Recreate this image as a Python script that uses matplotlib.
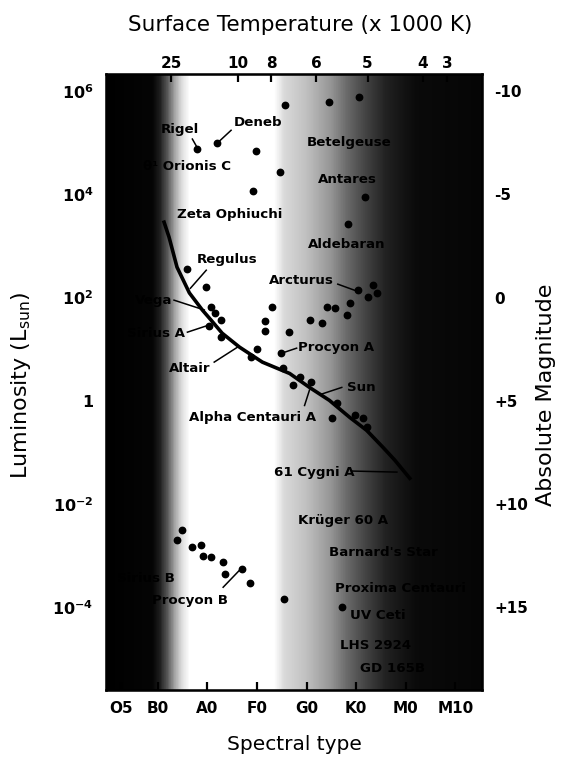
import numpy as np
import matplotlib
matplotlib.use("Agg")
import matplotlib.pyplot as plt

# ─── DATA ──────────────────────────────────────────────────────────────────────
# spectral type on a numeric scale: B0=10, A0=20, F0=30, G0=40, K0=50, M0=60
SPEC_TICKS  = [2.6, 10, 20, 30, 40, 50, 60, 70]
SPEC_LABELS = ["O5", "B0", "A0", "F0", "G0", "K0", "M0", "M10"]

TEMP_TICKS  = [12.7, 26.1, 32.9, 42.0, 52.3, 63.4, 68.3]
TEMP_LABELS = ["25", "10", "8", "6", "5", "4", "3"]

LUM_TICKS  = [-4, -2, 0, 2, 4, 6]
LUM_LABELS = [r"$\mathbf{10^{-4}}$", r"$\mathbf{10^{-2}}$", r"$\mathbf{1}$",
              r"$\mathbf{10^{2}}$", r"$\mathbf{10^{4}}$", r"$\mathbf{10^{6}}$"]
MAG_TICKS  = [-10, -5, 0, 5, 10, 15]
MAG_LABELS = ["-10", "-5", "0", "+5", "+10", "+15"]

# main-sequence curve
MS_TYPE = [11.3, 12.3, 13.9, 16.4, 19.0, 20.8, 23.0, 26.5, 31.1, 36.6,
           40.6, 44.6, 48.7, 52.1, 55.4, 57.8, 60.8]
MS_LOGL = [3.46, 3.17, 2.59, 2.09, 1.76, 1.56, 1.31, 1.04, 0.75, 0.53,
           0.26, 0.01, -0.32, -0.57, -0.90, -1.15, -1.50]

# individual stars
STAR_TYPE = [35.6, 44.6, 50.5, 18.0, 22.0, 29.9, 34.7, 29.3, 51.7, 48.3,
             16.0, 19.8, 20.8, 21.6, 22.8, 20.4, 22.8, 33.1, 31.7, 31.7,
             36.4, 30.1, 28.9, 34.9, 35.2, 37.2, 38.6, 41.0, 40.6, 43.2,
             44.2, 45.7, 48.1, 48.7, 50.3, 52.3, 53.3, 54.1, 46.1, 45.1,
             49.7, 51.3, 52.1,
             14.9, 13.9, 17.0, 18.8, 19.2, 20.8, 23.2, 23.6, 26.9, 28.7,
             35.4, 47.1]
STAR_LOGL = [5.73, 5.79, 5.88, 4.88, 4.99, 4.84, 4.43, 4.06, 3.95, 3.42,
             2.55, 2.20, 1.81, 1.70, 1.56, 1.45, 1.23, 1.81, 1.54, 1.35,
             1.33, 1.00, 0.84, 0.92, 0.63, 0.30, 0.46, 0.36, 1.56, 1.50,
             1.81, 1.79, 1.66, 1.89, 2.14, 2.01, 2.24, 2.09, -0.05, -0.34,
             -0.28, -0.34, -0.51,
             -2.51, -2.70, -2.84, -2.80, -3.01, -3.03, -3.13, -3.36, -3.26, -3.53,
             -3.83, -4.00]

# star names
NAMES = ["Rigel", "Deneb", "θ¹ Orionis C", "Zeta Ophiuchi", "Regulus", "Arcturus",
         "Vega", "Sirius A", "Altair", "Procyon A", "Sun", "Alpha Centauri A",
         "61 Cygni A", "Betelgeuse", "Antares", "Aldebaran", "Krüger 60 A",
         "Barnard's Star", "Proxima Centauri", "UV Ceti", "LHS 2924", "GD 165B",
         "Procyon B", "Sirius B"]

# ─── LAYOUT ────────────────────────────────────────────────────────────────────
# text anchor (type, logL, ha) for each name
NAME_POS = {
    "Rigel": (10.7, 5.26, "left"), "Deneb": (25.3, 5.40, "left"),
    "θ¹ Orionis C": (24.8, 4.53, "right"), "Zeta Ophiuchi": (13.9, 3.60, "left"),
    "Regulus": (17.8, 2.74, "left"), "Arcturus": (32.5, 2.34, "left"),
    "Vega": (12.9, 1.95, "right"), "Sirius A": (15.6, 1.31, "right"),
    "Altair": (12.3, 0.63, "left"), "Procyon A": (38.2, 1.04, "left"),
    "Sun": (48.1, 0.26, "left"), "Alpha Centauri A": (16.4, -0.32, "left"),
    "61 Cygni A": (33.5, -1.38, "left"), "Betelgeuse": (40.0, 5.01, "left"),
    "Antares": (42.2, 4.28, "left"), "Aldebaran": (40.2, 3.02, "left"),
    "Krüger 60 A": (38.2, -2.31, "left"), "Barnard's Star": (44.6, -2.93, "left"),
    "Proxima Centauri": (45.7, -3.63, "left"), "UV Ceti": (48.7, -4.15, "left"),
    "LHS 2924": (46.7, -4.74, "left"), "GD 165B": (50.7, -5.18, "left"),
    "Procyon B": (24.2, -3.86, "right"), "Sirius B": (13.5, -3.44, "right"),
}
# pointer lines: (x0, logL0, x1, logL1)
POINTERS = [
    (17.0, 5.07, 18.0, 4.90), (24.8, 5.24, 22.0, 4.99), (19.8, 2.53, 16.6, 2.18),
    (46.3, 2.26, 50.3, 2.12), (13.3, 1.95, 19.4, 1.76), (16.0, 1.33, 20.4, 1.47),
    (21.4, 0.75, 26.1, 1.04), (38.0, 1.02, 34.9, 0.92), (47.1, 0.26, 43.0, 0.13),
    (39.6, -0.09, 40.6, 0.21), (49.3, -1.36, 58.2, -1.38), (23.2, -3.61, 26.5, -3.28),
]

# background shading: (type, grey level)
SHADE_X = [-0.4, 9.0, 10.5, 12.0, 13.5, 15.0, 16.5, 33.5, 35.5, 40, 45, 48, 52, 56, 62, 75.4]
SHADE_G = [0.0, 0.02, 0.12, 0.35, 0.65, 0.88, 1.0, 1.0, 0.85, 0.75, 0.58, 0.42, 0.26, 0.13, 0.04, 0.02]

XLIM = (-0.4, 75.35)
YLIM = (10 ** -5.6, 10 ** 6.33)

fig = plt.figure(figsize=(5.63, 7.59), dpi=100)
ax = fig.add_axes([106 / 563, 69 / 759, 376 / 563, 616 / 759])
ax.set_yscale("log")

xe = np.linspace(XLIM[0], XLIM[1], 600)
grey = np.interp(0.5 * (xe[1:] + xe[:-1]), SHADE_X, SHADE_G)
ax.pcolormesh(xe, YLIM, grey[np.newaxis, :], cmap="gray", vmin=0, vmax=1,
              shading="flat", zorder=0)

ax.plot(MS_TYPE, 10 ** np.array(MS_LOGL), color="black", lw=2.6, zorder=2)
ax.plot(STAR_TYPE, 10 ** np.array(STAR_LOGL), "o", color="black", ms=4.6, zorder=3)

for x0, y0, x1, y1 in POINTERS:
    ax.plot([x0, x1], [10 ** y0, 10 ** y1], color="black", lw=1.1, zorder=3)

for name in NAMES:
    tx, ty, ha = NAME_POS[name]
    ax.text(tx, 10 ** ty, name, ha=ha, va="center", fontsize=9.6,
            fontweight="bold", color="black", zorder=4)

ax.set_xlim(*XLIM)
ax.set_ylim(*YLIM)
ax.minorticks_off()
ax.set_xticks(SPEC_TICKS)
ax.set_xticklabels(SPEC_LABELS, fontsize=11, fontweight="bold")
ax.set_yticks([10.0 ** v for v in LUM_TICKS])
ax.set_yticklabels(LUM_LABELS, fontsize=11.5)
ax.tick_params(axis="x", direction="in", length=6, width=1.6, pad=8)
ax.tick_params(axis="y", direction="in", length=0, pad=9)
for sp in ax.spines.values():
    sp.set_linewidth(1.8)

top = ax.twiny()
top.set_xlim(*XLIM)
top.set_xticks(TEMP_TICKS)
top.set_xticklabels(TEMP_LABELS, fontsize=11, fontweight="bold")
top.tick_params(axis="x", direction="in", length=6, width=1.6, pad=2)

right = ax.twinx()
right.set_yscale("log")
right.set_ylim(*YLIM)
right.minorticks_off()
right.set_yticks([10 ** ((5 - m) / 2.5) for m in MAG_TICKS])
right.set_yticklabels(MAG_LABELS, fontsize=11, fontweight="bold")
right.tick_params(axis="y", direction="in", length=0, pad=9)

fig.text(300 / 563, 1 - 25 / 759, "Surface Temperature (x 1000 K)",
         ha="center", va="center", fontsize=15.5)
fig.text(294 / 563, 1 - 744 / 759, "Spectral type", ha="center", va="center",
         fontsize=14.5)
fig.text(21 / 563, 1 - 385 / 759, r"Luminosity (L$_{\rm sun}$)", ha="center",
         va="center", rotation=90, fontsize=16)
fig.text(546 / 563, 1 - 395 / 759, "Absolute Magnitude", ha="center", va="center",
         rotation=90, fontsize=16)

fig.savefig("out.png", dpi=100)
